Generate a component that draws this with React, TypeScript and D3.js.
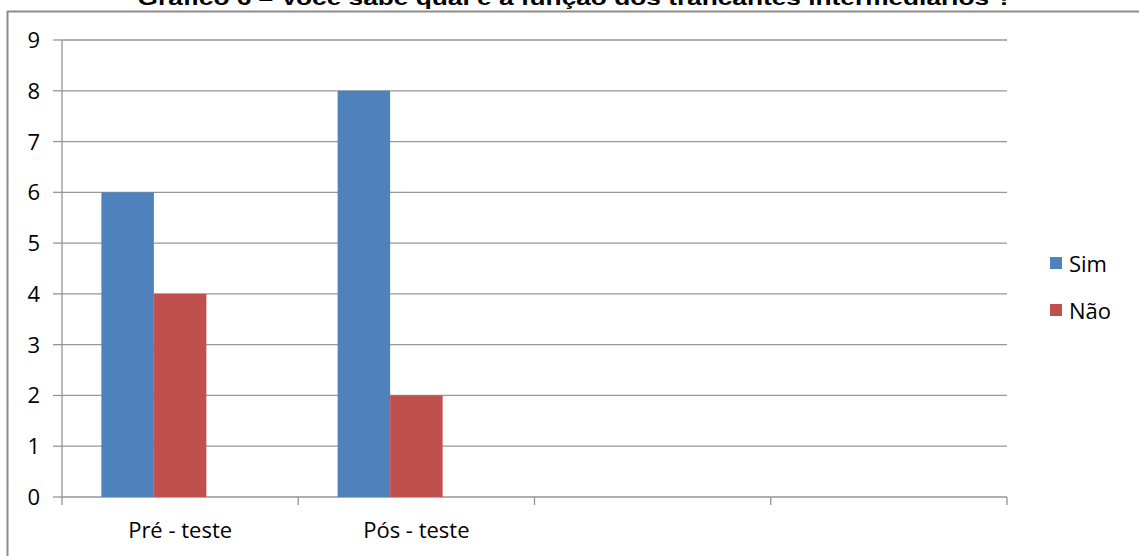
import React from "react";
import * as d3 from "d3";

const categories = ["Pré - teste", "Pós - teste", "", " "];
const seriesNames = ["Sim", "Não"];
const simValues = [6, 8, null, null];
const naoValues = [4, 2, null, null];
const seriesSlots = ["Sim", "Não", "_"];
const yTicks = [0, 1, 2, 3, 4, 5, 6, 7, 8, 9];
const colors = ["#4F81BD", "#C0504D"];
const title = "Gráfico 6 – Você sabe qual é a função dos trancantes intermediários ?";

export default function App() {
  const W = 1139, H = 556;
  const left = 62, right = 1007, top = 40, bottom = 497;
  const x0 = d3.scaleBand<string>().domain(categories).range([left, right]).padding(0);
  const x1 = d3.scaleBand<string>().domain(seriesSlots).range([0, x0.bandwidth()]).paddingInner(0).paddingOuter(0.75);
  const y = d3.scaleLinear().domain([0, 9]).range([bottom, top]);
  const series = [simValues, naoValues];
  const grid = "#969696";
  const font = "'Open Sans', sans-serif";
  const fs = 22;

  return (
    <svg width={W} height={H} style={{ position: "absolute", left: 0, top: 0, background: "#fff" }}>
      <rect x={0} y={0} width={W} height={H} fill="#fff" />
      <text x={575} y={5} textAnchor="middle" fontFamily="'Liberation Sans', Arial, sans-serif" fontWeight="bold" fontSize={20} textLength={875} lengthAdjust="spacingAndGlyphs">{title}</text>
      <rect x={7.5} y={11.5} width={1200} height={600} fill="none" stroke="#8c8c8c" strokeWidth={2} />
      {yTicks.map((t) => (
        <g key={t}>
          <line x1={left} x2={right} y1={y(t)} y2={y(t)} stroke={grid} strokeWidth={1.3} />
          <line x1={left - 9} x2={left} y1={y(t)} y2={y(t)} stroke={grid} strokeWidth={1.3} />
          <text x={40} y={y(t) + 8} textAnchor="end" fontFamily={font} fontSize={fs} fill="#000">{t}</text>
        </g>
      ))}
      <line x1={left} x2={left} y1={top} y2={bottom} stroke={grid} strokeWidth={1.3} />
      {[...categories.map((c) => x0(c) as number), right].map((xv, i) => (
        <line key={"xt" + i} x1={xv} x2={xv} y1={bottom} y2={bottom + 8} stroke={grid} strokeWidth={1.3} />
      ))}
      {series.map((vals, si) =>
        vals.map((v, ci) =>
          v == null ? null : (
            <rect key={si + "-" + ci}
              x={(x0(categories[ci]) as number) + (x1(seriesSlots[si]) as number)}
              y={y(v)} width={x1.bandwidth()} height={y(0) - y(v)} fill={colors[si]} />
          )
        )
      )}
      {categories.map((c, i) => (
        <text key={"xl" + i} x={(x0(c) as number) + x0.bandwidth() / 2} y={538} textAnchor="middle" fontFamily={font} fontSize={fs} fill="#000">{c}</text>
      ))}
      {seriesNames.map((s, i) => (
        <g key={s}>
          <rect x={1050} y={257 + i * 47} width={12} height={12} fill={colors[i]} />
          <text x={1069} y={272 + i * 47} fontFamily={font} fontSize={fs} fill="#000">{s}</text>
        </g>
      ))}
    </svg>
  );
}
